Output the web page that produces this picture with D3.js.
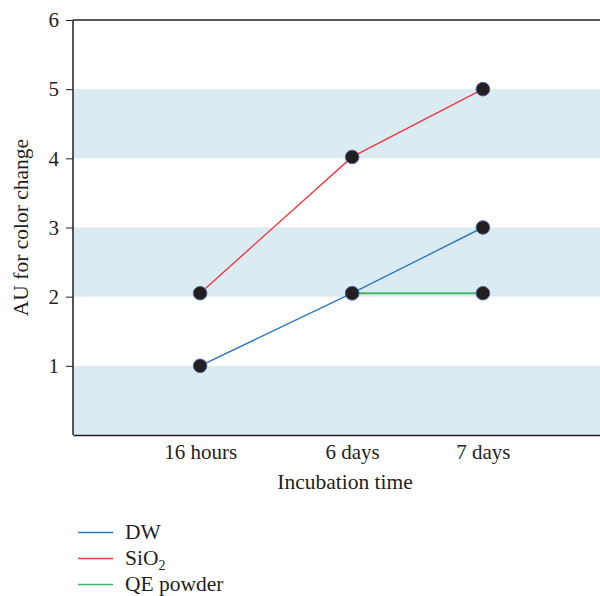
<!DOCTYPE html>
<html>
<head>
<meta charset="utf-8">
<script src="https://cdn.jsdelivr.net/npm/d3@7"></script>
<style>
  html, body { margin: 0; padding: 0; background: #fff; }
  svg text { font-family: "Liberation Serif", "Times New Roman", serif; fill: #231f20; }
</style>
</head>
<body>
<svg id="chart" width="600" height="596"></svg>
<script>
// ---- data ----
const categories = ["16 hours", "6 days", "7 days"];
const categoryPositions = [1, 2, 2.86];  // relative spacing of categories on the time axis
const dwValues = [1.0, 2.05, 3.0];
const sio2Values = [2.05, 4.02, 5.0];
const qeValues = [null, 2.05, 2.05];
const yTicks = [1, 2, 3, 4, 5, 6];
const bandRanges = [[0, 1], [2, 3], [4, 5]];
const seriesNames = ["DW", "SiO2", "QE powder"];
const seriesColors = ["#2c78c2", "#ec3b40", "#45b46c"];

// ---- layout ----
const svg = d3.select("#chart");
const margin = { left: 73, right: 0, top: 20, bottom: 161 };
const W = 600, H = 596;
const x = d3.scaleLinear().domain([0.164, 3.63]).range([margin.left, W - margin.right]);
const y = d3.scaleLinear().domain([0, 6]).range([H - margin.bottom, margin.top]);

// bands
svg.append("g").selectAll("rect").data(bandRanges).join("rect")
  .attr("x", x.range()[0])
  .attr("width", x.range()[1] - x.range()[0])
  .attr("y", d => y(d[1]))
  .attr("height", d => y(d[0]) - y(d[1]))
  .attr("fill", "#daebf1");

// top line
svg.append("line")
  .attr("x1", x.range()[0]).attr("x2", x.range()[1])
  .attr("y1", y(6)).attr("y2", y(6))
  .attr("stroke", "#231f20").attr("stroke-width", 1.5);

// y axis
const yAxis = svg.append("g")
  .attr("transform", `translate(${margin.left},0)`)
  .call(d3.axisLeft(y).tickValues(yTicks).tickSize(7).tickPadding(7).tickFormat(d3.format("d")));
yAxis.select(".domain").attr("stroke", "#231f20").attr("stroke-width", 1.5)
  .attr("d", `M0,${y(6)}V${y(0)}`);
yAxis.selectAll(".tick line").attr("stroke", "#231f20").attr("stroke-width", 1);
yAxis.selectAll(".tick text").attr("font-size", 21)
  .attr("font-family", "Liberation Serif").attr("fill", "#231f20");

// x axis
const xAxis = svg.append("g")
  .attr("transform", `translate(0,${y(0)})`)
  .call(d3.axisBottom(x).tickValues(categoryPositions).tickSize(0).tickPadding(9)
    .tickFormat((d, i) => categories[i]));
xAxis.select(".domain").attr("stroke", "#231f20").attr("stroke-width", 1.5);
xAxis.selectAll(".tick text").attr("font-size", 21)
  .attr("font-family", "Liberation Serif").attr("fill", "#231f20");

// axis titles
svg.append("text")
  .attr("x", 345).attr("y", 489)
  .attr("text-anchor", "middle").attr("font-size", 21.5)
  .text("Incubation time");
svg.append("text")
  .attr("transform", `translate(28,${(y(0) + y(6)) / 2}) rotate(-90)`)
  .attr("text-anchor", "middle").attr("font-size", 21.5)
  .text("AU for color change");

// lines
const allSeries = [dwValues, sio2Values, qeValues];
const line = d3.line()
  .defined(d => d.v !== null)
  .x(d => x(d.p)).y(d => y(d.v));
allSeries.forEach((vals, si) => {
  const pts = vals.map((v, i) => ({ p: categoryPositions[i], v }));
  svg.append("path").datum(pts)
    .attr("d", line)
    .attr("fill", "none")
    .attr("stroke", seriesColors[si])
    .attr("stroke-width", si === 2 ? 2 : 1.4);
});
// points
allSeries.forEach((vals, si) => {
  const pts = vals.map((v, i) => ({ p: categoryPositions[i], v })).filter(d => d.v !== null);
  svg.append("g").selectAll("circle").data(pts).join("circle")
    .attr("cx", d => x(d.p)).attr("cy", d => y(d.v))
    .attr("r", 6.8)
    .attr("fill", "#231f20")
    .attr("stroke", "#4a6a9a").attr("stroke-width", 1);
});

// legend
const legend = svg.append("g");
seriesNames.forEach((name, i) => {
  const ly = 532.5 + i * 26;
  legend.append("line")
    .attr("x1", 78).attr("x2", 113).attr("y1", ly).attr("y2", ly)
    .attr("stroke", seriesColors[i]).attr("stroke-width", 1.4);
  const t = legend.append("text")
    .attr("x", 125).attr("y", ly + 6).attr("font-size", 21.5);
  if (name === "SiO2") {
    t.append("tspan").text("SiO");
    t.append("tspan").attr("font-size", 14).attr("dy", 5).text("2");
  } else {
    t.text(name);
  }
});
</script>
</body>
</html>
